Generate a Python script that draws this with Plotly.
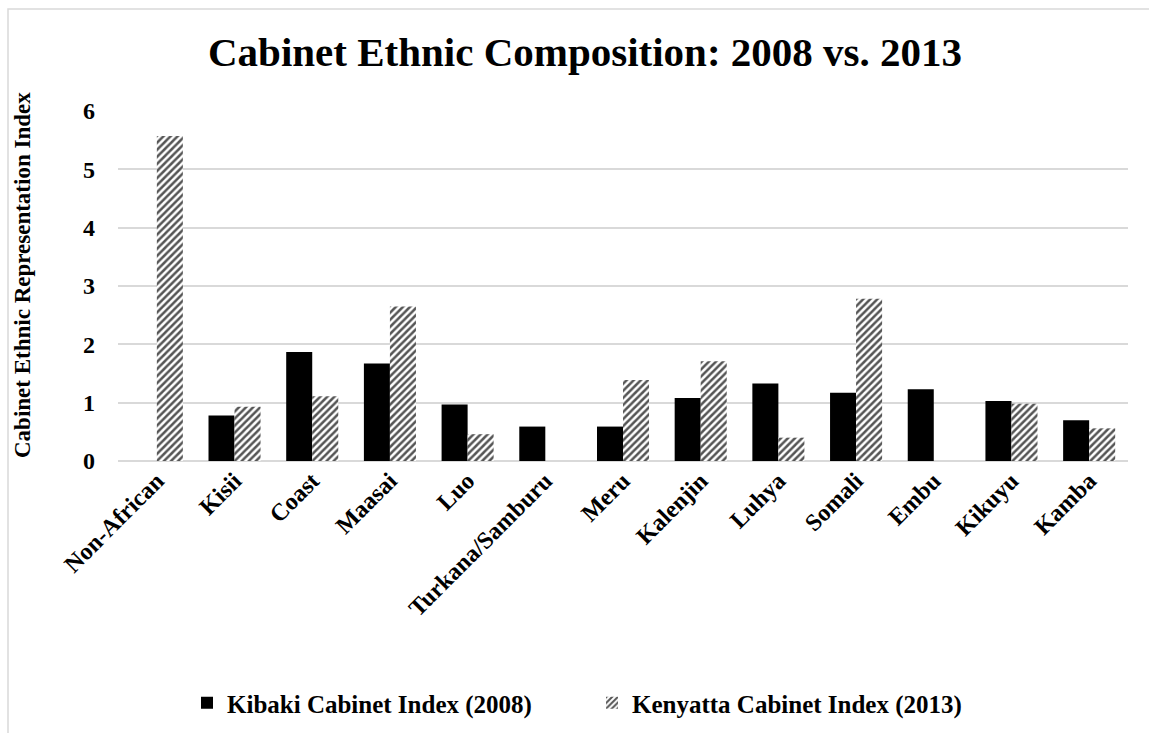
import plotly.graph_objects as go

categories = ["Non-African", "Kisii", "Coast", "Maasai", "Luo", "Turkana/Samburu",
              "Meru", "Kalenjin", "Luhya", "Somali", "Embu", "Kikuyu", "Kamba"]
kibaki_2008 = [0, 0.78, 1.87, 1.67, 0.97, 0.59, 0.59, 1.08, 1.33, 1.17, 1.23, 1.03, 0.70]
kenyatta_2013 = [5.57, 0.93, 1.11, 2.65, 0.46, 0, 1.39, 1.71, 0.40, 2.78, 0, 0.98, 0.56]
y_ticks = [0, 1, 2, 3, 4, 5, 6]

FONT = "Liberation Serif"

fig = go.Figure()
fig.add_trace(go.Bar(
    x=categories, y=kibaki_2008, name="Kibaki Cabinet Index (2008)",
    marker=dict(color="black", line=dict(width=0)),
))
fig.add_trace(go.Bar(
    x=categories, y=kenyatta_2013, name="Kenyatta Cabinet Index (2013)",
    marker=dict(color="white", line=dict(width=0),
                pattern=dict(shape="/", fgcolor="#555555", bgcolor="white",
                             size=5, solidity=0.5, fillmode="replace")),
))

W, H = 1149, 733
L, R, T, B = 118, 21, 111, 272
pw = W - L - R
ph = H - T - B

fig.update_layout(
    width=W, height=H,
    margin=dict(l=L, r=R, t=T, b=B, autoexpand=False),
    paper_bgcolor="white", plot_bgcolor="white",
    barmode="group", bargap=0.33, bargroupgap=0,
    font=dict(family=FONT, color="black", size=24, weight="bold"),
    title=dict(text="Cabinet Ethnic Composition: 2008 vs. 2013",
               font=dict(family=FONT, size=41, color="black", weight="bold"),
               x=585 / W, xanchor="center", y=1 - 52 / H, yanchor="middle"),
    showlegend=True,
    legend=dict(orientation="h", x=592 / W * 0 + (592 - L) / pw, xanchor="center",
                y=(T + ph - 703) / ph, yanchor="middle",
                font=dict(family=FONT, size=25, color="black", weight="bold"),
                itemwidth=30, tracegroupgap=0, entrywidthmode="pixels", entrywidth=360),
    xaxis=dict(tickangle=-45, showgrid=False, showline=False, ticks="",
               tickfont=dict(family=FONT, size=24, color="black", weight="bold"),
               automargin=False),
    yaxis=dict(range=[0, 6], tickvals=y_ticks, showgrid=True, gridcolor="#d9d9d9",
               gridwidth=1.5, zeroline=True, zerolinecolor="#d9d9d9", zerolinewidth=1.5,
               showline=False, ticks="", ticklabelstandoff=22,
               tickfont=dict(family=FONT, size=24, color="black", weight="bold"),
               automargin=False),
    annotations=[dict(text="Cabinet Ethnic Representation Index", textangle=-90,
                      xref="paper", yref="paper",
                      x=(22 - L) / pw, y=(T + ph - 275) / ph,
                      xanchor="center", yanchor="middle", showarrow=False,
                      font=dict(family=FONT, size=23, color="black", weight="bold"))],
    shapes=[dict(type="rect", xref="paper", yref="paper",
                 x0=(8 - L) / pw, x1=(1200 - L) / pw,
                 y0=(T + ph - 800) / ph, y1=(T + ph - 9) / ph,
                 line=dict(color="#d9d9d9", width=1.5), fillcolor="rgba(0,0,0,0)",
                 layer="below")],
)

fig.write_html("out.html")
